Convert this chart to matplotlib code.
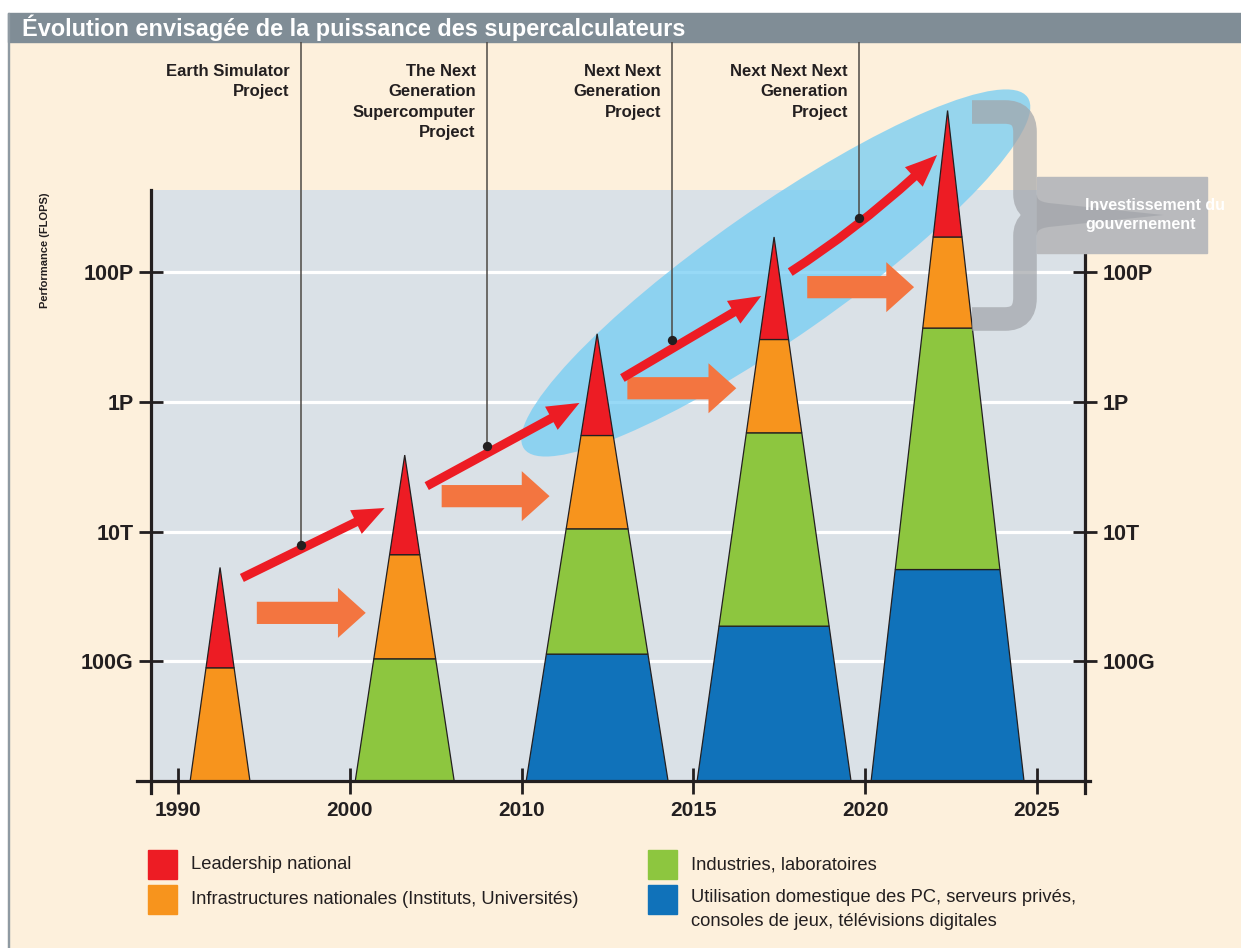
import numpy as np
import matplotlib
matplotlib.use('Agg')
import matplotlib.pyplot as plt
from matplotlib import patches, transforms
from matplotlib.path import Path
from matplotlib.ticker import NullLocator

W, H = 1241, 948

# ---- data ----
years = ['1990', '2000', '2010', '2015', '2020', '2025']
tick_flops = [1e11, 1e13, 1e15, 1e17]
tick_names = ['100G', '10T', '1P', '100P']

# cones (x in axis units, one unit per year label)
cone_x = [0.245, 1.32, 2.44, 3.47, 4.48]
cone_half = [0.174, 0.288, 0.413, 0.448, 0.445]
cone_top = [2.8e12, 1.5e14, 1.1e16, 3.4e17, 3.0e19]
blue_top = [None, None, 1.3e11, 3.5e11, 2.6e12]
green_top = [None, 1.1e11, 1.1e13, 3.3e14, 1.35e16]
orange_top = [8.0e10, 4.4e12, 3.0e14, 9.0e15, 3.4e17]

# red trend arrows
trend_x0 = [0.372, 1.448, 2.587, 3.564]
trend_y0 = [1.93e12, 5.0e13, 2.3e15, 9.8e16]
trend_x1 = [1.203, 2.337, 3.395, 4.419]
trend_y1 = [2.3e13, 9.5e14, 4.2e16, 6.2e18]

# projects
project_x = [0.715, 1.797, 2.878, 3.965]
project_y = [6.2e12, 2.1e14, 8.9e15, 6.6e17]
project_names = ['Earth Simulator\nProject',
                 'The Next\nGeneration\nSupercomputer\nProject',
                 'Next Next\nGeneration\nProject',
                 'Next Next Next\nGeneration\nProject']

# orange diffusion arrows
flow_x0 = [0.459, 1.535, 2.616, 3.663]
flow_x1 = [1.093, 2.163, 3.25, 4.285]
flow_y = [5.6e11, 3.5e13, 1.6e15, 5.75e16]

legend_labels = ['Leadership national',
                 'Infrastructures nationales (Instituts, Universités)',
                 'Industries, laboratoires',
                 'Utilisation domestique des PC, serveurs privés,\nconsoles de jeux, télévisions digitales']

RED, ORANGE, GREEN, BLUE = '#ed1c24', '#f7941d', '#8dc63f', '#1072ba'
DARK = '#231f20'
CREAM = '#fdf0dc'

plt.rcParams['font.family'] = ['Liberation Sans', 'DejaVu Sans']


def fx(px):
    return px / W


def fy(py):
    return 1 - py / H


fig = plt.figure(figsize=(W / 100, H / 100), dpi=100, facecolor='white')

# background, title band
fig.patches.append(patches.Rectangle((fx(8), 0), 1 - fx(8), fy(42), transform=fig.transFigure,
                                     color=CREAM, zorder=-10))
fig.patches.append(patches.Rectangle((fx(8), fy(42)), 1 - fx(8), fy(13) - fy(42),
                                     transform=fig.transFigure, color='#808d96', zorder=-9))
fig.patches.append(patches.Rectangle((fx(7.5), 0), fx(1.5), fy(13), transform=fig.transFigure,
                                     color='#8f9aa2', zorder=-9))
fig.text(fx(22), fy(28), 'Évolution envisagée de la puissance des supercalculateurs',
         weight='bold', fontsize=16.9, color='white', va='center', ha='left')

ax = fig.add_axes([fx(151), fy(781), fx(1085) - fx(151), fy(42) - fy(781)])
ax.set_facecolor('none')
ax.set_xlim(-0.157, 5.28)
ax.set_yscale('log')
y_floor, y_ceil, frame_top = 1.45e9, 3.4e20, 1.8e18
ax.set_ylim(y_floor, y_ceil)

ax.axhspan(y_floor, frame_top, color='#dae1e7', zorder=0, lw=0)
ax.hlines(tick_flops, -0.157, 5.28, color='white', lw=2.3, zorder=0.5)

# ellipse (sized in pixels, centred on a data point)
ell = patches.Ellipse((0, 0), 614, 130, angle=34.9, facecolor='#74cdf4', alpha=0.75, lw=0,
                      transform=transforms.ScaledTranslation(3.48, 9.5e16, ax.transData), zorder=0.8)
ax.add_patch(ell)


def half_width(i, y):
    lt, lf = np.log10(cone_top[i]), np.log10(y_floor)
    return cone_half[i] * (lt - np.log10(y)) / (lt - lf)


for i in range(len(cone_x)):
    levels = [y_floor]
    colors = []
    for top, c in [(blue_top[i], BLUE), (green_top[i], GREEN), (orange_top[i], ORANGE)]:
        if top is not None:
            levels.append(top)
            colors.append(c)
    levels.append(cone_top[i])
    colors.append(RED)
    for c, y0, y1 in zip(colors, levels[:-1], levels[1:]):
        w0, w1 = half_width(i, y0), half_width(i, y1)
        xs = [cone_x[i] - w0, cone_x[i] + w0, cone_x[i] + w1, cone_x[i] - w1]
        ax.add_patch(patches.Polygon(list(zip(xs, [y0, y0, y1, y1])), closed=True,
                                     facecolor=c, edgecolor=DARK, lw=0.9, zorder=2))

# orange arrows
for x0, x1, y in zip(flow_x0, flow_x1, flow_y):
    ax.annotate('', xy=(x1, y), xytext=(x0, y),
                arrowprops=dict(arrowstyle='simple,head_length=20,head_width=36,tail_width=16',
                                mutation_scale=1, color='#f37540', lw=0, shrinkA=0, shrinkB=0),
                zorder=2.5)

# red trend arrows
for k, (x0, y0, x1, y1) in enumerate(zip(trend_x0, trend_y0, trend_x1, trend_y1)):
    rad = 0.05 if k == 3 else 0.0
    ax.annotate('', xy=(x1, y1), xytext=(x0, y0),
                arrowprops=dict(arrowstyle='simple,head_length=23,head_width=19,tail_width=6.4',
                                mutation_scale=1, color=RED, lw=0, shrinkA=0, shrinkB=0,
                                connectionstyle=f'arc3,rad={rad}'),
                zorder=3)

# project leader lines, dots, labels
ax.vlines(project_x, project_y, y_ceil, color='#4d4945', lw=1.1, zorder=3.5)
ax.scatter(project_x, project_y, s=45, color=DARK, zorder=4, lw=0)
lab_tr = transforms.offset_copy(transforms.blended_transform_factory(ax.transData, fig.transFigure),
                                fig=fig, x=-11, y=0, units='dots')
for x, name in zip(project_x, project_names):
    fig.text(x, fy(64), name, transform=lab_tr, ha='right', va='top', multialignment='right',
             fontsize=12, weight='bold', color=DARK, linespacing=1.45)

# axes styling
ax.spines['top'].set_visible(False)
for side in ['left', 'right', 'bottom']:
    ax.spines[side].set_linewidth(2.3)
    ax.spines[side].set_color(DARK)
ax.spines['left'].set_bounds(9.5e8, frame_top)
ax.spines['right'].set_bounds(9.5e8, frame_top)
ax.spines['bottom'].set_bounds(-0.24, 5.31)

ax.set_yticks(tick_flops, tick_names)
ax.yaxis.set_minor_locator(NullLocator())
ax.tick_params(axis='y', direction='inout', length=17, width=2, color=DARK, labelsize=15.5,
               labelcolor=DARK, left=True, right=True, labelleft=True, labelright=True, pad=4)
ax.set_xticks(range(len(years)), years)
ax.tick_params(axis='x', direction='inout', length=19, width=2, color=DARK, labelsize=15,
               labelcolor=DARK, pad=5)
for lbl in ax.get_xticklabels() + ax.get_yticklabels():
    lbl.set_fontweight('bold')
for t in ax.yaxis.get_major_ticks():
    t.label2.set_fontweight('bold')

fig.text(fx(45), fy(250), 'Performance (FLOPS)', rotation=90, ha='center', va='center',
         fontsize=8, weight='bold', color=DARK)

# government bracket
fig.patches.append(patches.Rectangle((fx(1037), fy(253)), fx(1207) - fx(1037), fy(177) - fy(253),
                                     transform=fig.transFigure, color='#b9babd', zorder=4))
brace_pts = [(972, 112), (1005, 112), (1025, 112), (1025, 132), (1025, 194), (1025, 213),
             (1050, 215), (1025, 217), (1025, 236), (1025, 298), (1025, 319), (1005, 319),
             (972, 319)]
codes = [Path.MOVETO, Path.LINETO, Path.CURVE3, Path.CURVE3, Path.LINETO, Path.CURVE3,
         Path.CURVE3, Path.CURVE3, Path.CURVE3, Path.LINETO, Path.CURVE3, Path.CURVE3,
         Path.LINETO]
brace = patches.PathPatch(Path([(fx(px), fy(py)) for px, py in brace_pts], codes),
                          transform=fig.transFigure, facecolor='none', edgecolor='#a2a5aa',
                          lw=17, alpha=0.72, capstyle='butt', joinstyle='miter', zorder=5)
fig.patches.append(brace)
fig.text(fx(1085), fy(215), 'Investissement du\ngouvernement', ha='left', va='center',
         fontsize=11.5, weight='bold', color='white', linespacing=1.3, zorder=6)

# legend
leg_pos = [(148, 850), (148, 885), (648, 850), (648, 885)]
leg_col = [RED, ORANGE, GREEN, BLUE]
for (px, py), c, lab in zip(leg_pos, leg_col, legend_labels):
    fig.patches.append(patches.Rectangle((fx(px), fy(py + 29)), fx(29), 29 / H,
                                         transform=fig.transFigure, color=c, zorder=2))
    multi = '\n' in lab
    fig.text(fx(px + 43), fy(py + 14.5), lab, ha='left', va='top' if multi else 'center',
             fontsize=13.2, color=DARK, linespacing=1.5,
             transform=transforms.offset_copy(fig.transFigure, fig=fig, x=0,
                                              y=10 if multi else 0, units='dots'))

fig.savefig('out.png', dpi=100, facecolor=fig.get_facecolor())
